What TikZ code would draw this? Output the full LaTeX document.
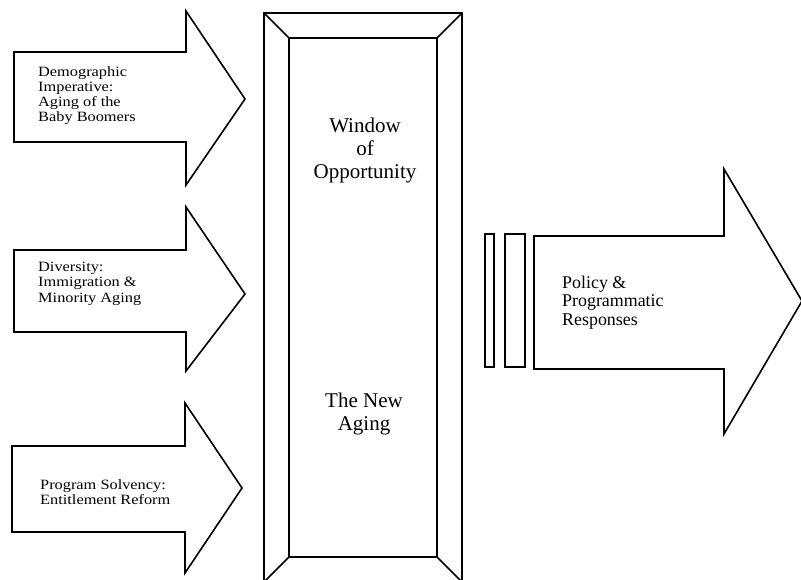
\documentclass[tikz,border=0pt]{standalone}
\usepackage{fontspec}
\setmainfont{Liberation Serif}
\newfontfamily\widefont[FakeStretch=1.15]{Liberation Serif}
\begin{document}
\begin{tikzpicture}[x=1pt,y=-1pt,
  shp/.style={draw, line width=1.6pt, line join=miter},
  lefttxt/.style={font=\widefont\fontsize{14.2}{15.2}\selectfont, align=left, anchor=north west, inner sep=0pt},
  midtxt/.style={font=\fontsize{21}{23}\selectfont, align=center, anchor=north, inner sep=0pt},
  righttxt/.style={font=\fontsize{17.9}{18.8}\selectfont, align=left, anchor=north west, inner sep=0pt}]
\useasboundingbox (0,0) rectangle (801,579);
\clip (0,0) rectangle (801,579);
% left arrows
\draw[shp] (14,52) -- (186,52) -- (186,11) -- (245,99) -- (186,185) -- (186,142) -- (14,142) -- cycle;
\draw[shp] (14,250) -- (186,250) -- (186,207) -- (245,294) -- (186,371) -- (186,332) -- (14,332) -- cycle;
\draw[shp] (12,446) -- (185,446) -- (185,403) -- (242,488) -- (185,573) -- (185,532) -- (12,532) -- cycle;
% window
\draw[shp] (264,13) rectangle (462,582);
\draw[shp] (289,38) rectangle (437,557);
\draw[shp] (264,13) -- (289,38) (462,13) -- (437,38) (264,582) -- (289,557) (462,582) -- (437,557);
% bars and right arrow
\draw[shp] (485,234) rectangle (494,367);
\draw[shp] (505,234) rectangle (525,367);
\draw[shp] (534,236) -- (724,236) -- (724,169) -- (802,301) -- (724,434) -- (724,369) -- (534,369) -- cycle;
% texts
\node[lefttxt] (demo) at (38,66) {Demographic\\Imperative:\\Aging of the\\Baby Boomers};
\node[lefttxt] (div) at (38,262) {Diversity:\\Immigration \&\\Minority Aging};
\node[lefttxt] (solv) at (40,479) {Program Solvency:\\Entitlement Reform};
\node[midtxt] (window) at (365,118) {Window\\of\\Opportunity};
\node[midtxt] (newaging) at (364,393) {The New\\Aging};
\node[righttxt] (policy) at (562,275.5) {Policy \&\\Programmatic\\Responses};
\end{tikzpicture}
\end{document}
